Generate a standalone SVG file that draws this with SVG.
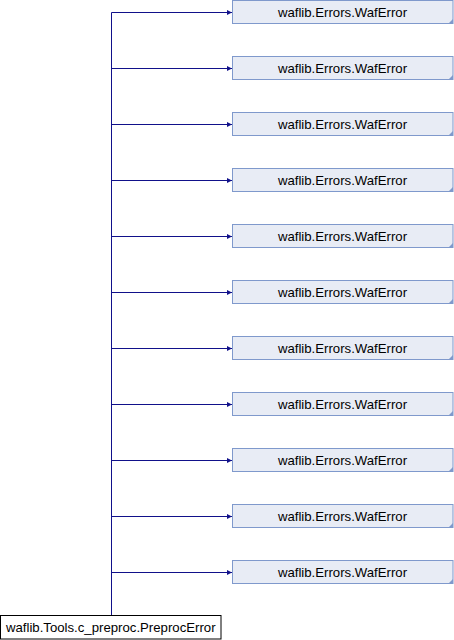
<svg xmlns="http://www.w3.org/2000/svg" width="454" height="640" viewBox="0 0 454 640">
<defs>
<style>
.n rect{fill:#e8ecf5;stroke:#7f99cc;stroke-width:1}
.n polygon{fill:#7f99cc}
text{font-family:"Liberation Sans",Arial,sans-serif;font-size:13.2px;fill:#000;text-anchor:middle}
.e{stroke:#11118a;stroke-width:1;fill:none}
</style>
<marker id="ah" markerWidth="6" markerHeight="6" refX="5" refY="3" orient="auto" markerUnits="userSpaceOnUse">
<path d="M0,0.5 L5,3 L0,5.5 Z" fill="#11118a"/>
</marker>
</defs>
<rect width="454" height="640" fill="#fff"/>
<g id="connectors">
<path class="e" d="M111.5,615.5 V12.5"/>
<path class="e" marker-end="url(#ah)" d="M111.5,12.5 H232"/>
<path class="e" marker-end="url(#ah)" d="M111.5,68.5 H232"/>
<path class="e" marker-end="url(#ah)" d="M111.5,124.5 H232"/>
<path class="e" marker-end="url(#ah)" d="M111.5,180.5 H232"/>
<path class="e" marker-end="url(#ah)" d="M111.5,236.5 H232"/>
<path class="e" marker-end="url(#ah)" d="M111.5,292.5 H232"/>
<path class="e" marker-end="url(#ah)" d="M111.5,348.5 H232"/>
<path class="e" marker-end="url(#ah)" d="M111.5,404.5 H232"/>
<path class="e" marker-end="url(#ah)" d="M111.5,460.5 H232"/>
<path class="e" marker-end="url(#ah)" d="M111.5,516.5 H232"/>
<path class="e" marker-end="url(#ah)" d="M111.5,572.5 H232"/>
</g>
<g id="node0" class="n"><rect x="232.5" y="0.5" width="220.5" height="23"/><polygon points="453,19 453,24 448,24"/><text x="342.5" y="17">waflib.Errors.WafError</text></g>
<g id="node1" class="n"><rect x="232.5" y="56.5" width="220.5" height="23"/><polygon points="453,75 453,80 448,80"/><text x="342.5" y="73">waflib.Errors.WafError</text></g>
<g id="node2" class="n"><rect x="232.5" y="112.5" width="220.5" height="23"/><polygon points="453,131 453,136 448,136"/><text x="342.5" y="129">waflib.Errors.WafError</text></g>
<g id="node3" class="n"><rect x="232.5" y="168.5" width="220.5" height="23"/><polygon points="453,187 453,192 448,192"/><text x="342.5" y="185">waflib.Errors.WafError</text></g>
<g id="node4" class="n"><rect x="232.5" y="224.5" width="220.5" height="23"/><polygon points="453,243 453,248 448,248"/><text x="342.5" y="241">waflib.Errors.WafError</text></g>
<g id="node5" class="n"><rect x="232.5" y="280.5" width="220.5" height="23"/><polygon points="453,299 453,304 448,304"/><text x="342.5" y="297">waflib.Errors.WafError</text></g>
<g id="node6" class="n"><rect x="232.5" y="336.5" width="220.5" height="23"/><polygon points="453,355 453,360 448,360"/><text x="342.5" y="353">waflib.Errors.WafError</text></g>
<g id="node7" class="n"><rect x="232.5" y="392.5" width="220.5" height="23"/><polygon points="453,411 453,416 448,416"/><text x="342.5" y="409">waflib.Errors.WafError</text></g>
<g id="node8" class="n"><rect x="232.5" y="448.5" width="220.5" height="23"/><polygon points="453,467 453,472 448,472"/><text x="342.5" y="465">waflib.Errors.WafError</text></g>
<g id="node9" class="n"><rect x="232.5" y="504.5" width="220.5" height="23"/><polygon points="453,523 453,528 448,528"/><text x="342.5" y="521">waflib.Errors.WafError</text></g>
<g id="node10" class="n"><rect x="232.5" y="560.5" width="220.5" height="23"/><polygon points="453,579 453,584 448,584"/><text x="342.5" y="577">waflib.Errors.WafError</text></g>
<g id="main"><rect x="0.5" y="615.5" width="220.5" height="23.5" fill="#fff" stroke="#000" stroke-width="1"/><text x="110.75" y="632">waflib.Tools.c_preproc.PreprocError</text></g>
</svg>
